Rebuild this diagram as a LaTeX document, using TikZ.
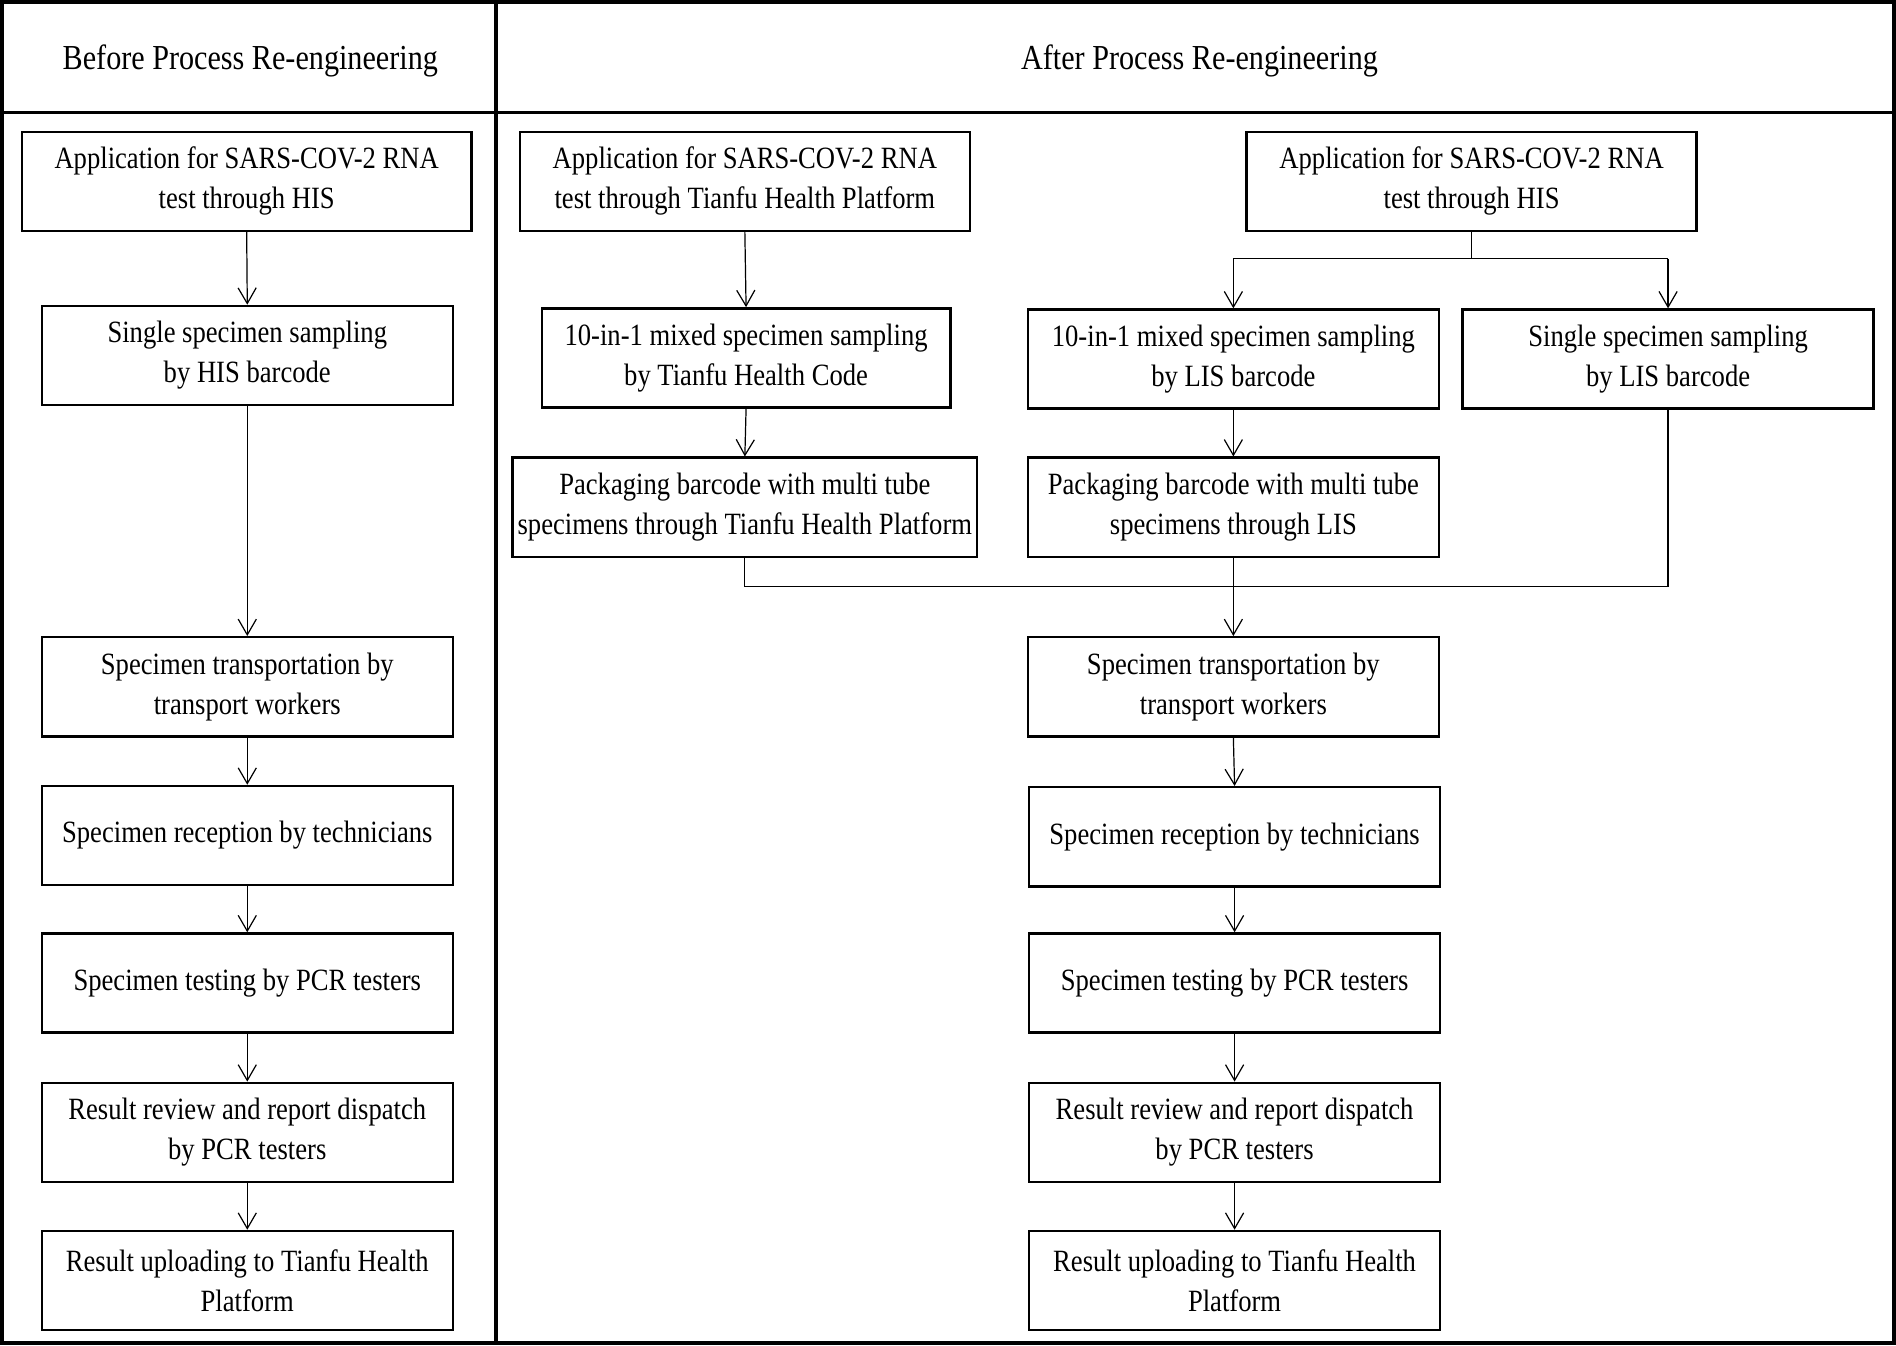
\documentclass[tikz,border=0pt]{standalone}
\usepackage{fontspec}
\setmainfont{Liberation Serif}[FakeStretch=0.86]
\usetikzlibrary{arrows.meta}

\begin{document}
\begin{tikzpicture}[x=0.5pt,y=0.5pt,yscale=-1,xscale=1,
  stepbox/.style={draw,line width=1pt,align=center,inner sep=0pt,minimum height=41pt,
    font=\fontsize{12.8}{16.5}\selectfont},
  narrowbox/.style={stepbox,minimum width=170pt},
  widebox/.style={stepbox,minimum width=186pt},
  headtext/.style={font=\fontsize{14.5}{17}\selectfont},
  link/.style={line width=0.5pt},
  arr/.style={link,-{Straight Barb[length=6.5pt,width=7.5pt]}}]
\useasboundingbox (0,0) rectangle (1568,1113);

%Frame and header
\draw [line width=1.6pt] (2,2) rectangle (1566,1111);
\draw [line width=1.6pt] (2,93) -- (1566,93);
\draw [line width=1.6pt] (410,2) -- (410,1111);
\node [headtext] (hbefore) at (207,50) {Before Process Re-engineering};
\node [headtext] (hafter) at (992,50) {After Process Re-engineering};

% Before: boxes
\node [widebox] (L1) at (204,150) {Application for SARS-COV-2 RNA\\test through HIS};
\node [narrowbox] (L2) at (204.5,294) {Single specimen sampling\\by HIS barcode};
\node [narrowbox] (L3) at (204.5,568) {Specimen transportation by\\transport workers};
\node [narrowbox] (L4) at (204.5,691) {Specimen reception by technicians};
\node [narrowbox] (L5) at (204.5,813) {Specimen testing by PCR testers};
\node [narrowbox] (L6) at (204.5,936.5) {Result review and report dispatch\\by PCR testers};
\node [narrowbox] (L7) at (204.5,1059) {Result uploading to Tianfu Health\\Platform};

% After: boxes
\node [widebox] (A1) at (616,150) {Application for SARS-COV-2 RNA\\test through Tianfu Health Platform};
\node [widebox] (A2) at (1217,150) {Application for SARS-COV-2 RNA\\test through HIS};
\node [stepbox,minimum width=169pt] (B1) at (617,296) {10-in-1 mixed specimen sampling\\by Tianfu Health Code};
\node [narrowbox] (B2) at (1020,297) {10-in-1 mixed specimen sampling\\by LIS barcode};
\node [narrowbox] (B3) at (1379.5,297) {Single specimen sampling\\by LIS barcode};
\node [stepbox,minimum width=192pt] (C1) at (616,419.5) {Packaging barcode with multi tube\\specimens through Tianfu Health Platform};
\node [narrowbox] (C2) at (1020,419.5) {Packaging barcode with multi tube\\specimens through LIS};
\node [narrowbox] (D1) at (1020,568) {Specimen transportation by\\transport workers};
\node [narrowbox] (D2) at (1021,692) {Specimen reception by technicians};
\node [narrowbox] (D3) at (1021,813) {Specimen testing by PCR testers};
\node [narrowbox] (D4) at (1021,936.5) {Result review and report dispatch\\by PCR testers};
\node [narrowbox] (D5) at (1021,1059) {Result uploading to Tianfu Health\\Platform};

% Before: arrows
\foreach \a/\b in {L1/L2,L2/L3,L3/L4,L4/L5,L5/L6,L6/L7}
  \draw [arr] (\a.south) -- (\b.north);

% After: arrows
\draw [arr] (A1.south) -- (B1.north);
\draw [arr] (B1.south) -- (C1.north);
\draw [arr] (B2.south) -- (C2.north);
\coordinate (split) at (1217,214);
\draw [link] (A2.south) -- (split);
\draw [link] (B2.north |- split) -- (B3.north |- split);
\draw [arr] (B2.north |- split) -- (B2.north);
\draw [arr] (B3.north |- split) -- (B3.north);
\coordinate (merge) at (1020,485);
\draw [link] (C1.south) -- (C1.south |- merge) -- (B3.south |- merge) -- (B3.south);
\draw [arr] (C2.south) -- (D1.north);
\foreach \a/\b in {D1/D2,D2/D3,D3/D4,D4/D5}
  \draw [arr] (\a.south) -- (\b.north);

\end{tikzpicture}
\end{document}
